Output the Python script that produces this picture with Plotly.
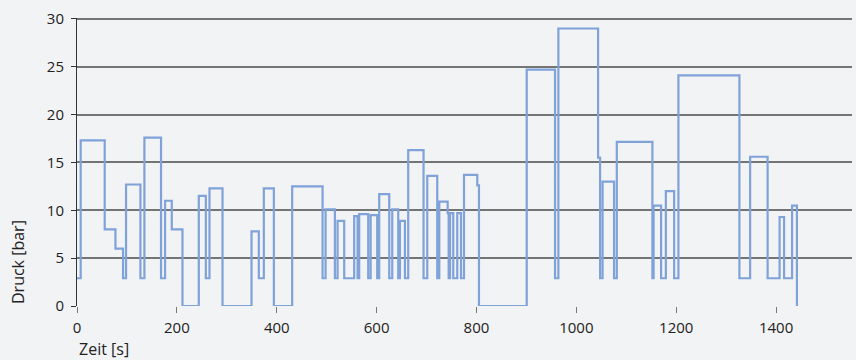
import plotly.graph_objects as go

# Step breakpoints (s) and pressure held from each breakpoint (bar)
zeit = [0, 7.4, 55.5, 77, 92.2, 98.2, 127, 135, 168.3, 176.4,
        189.8, 211.2, 243.9, 258, 265.3, 291.4, 349.5, 364.1, 374.1, 394.2,
        430.9, 491.8, 497.8, 516.4, 521.8, 535.1, 555.1, 561.9, 565.1, 583.2,
        588, 601.2, 605.2, 625.3, 631.3, 643.3, 646.7, 656.7, 663.3, 694,
        701.4, 721.4, 725.5, 742.3, 744.3, 747, 753.5, 761.5, 769, 775,
        801.6, 805, 900.6, 957.3, 964, 1043.5, 1047.5, 1052.5, 1075.5, 1081,
        1152.3, 1154.7, 1169.7, 1179.2, 1195.8, 1204.4, 1326.5, 1348, 1383, 1407,
        1416, 1432, 1441.7]
druck = [2.9, 17.3, 8.0, 6.0, 2.9, 12.7, 2.9, 17.6, 2.9, 11.0,
         8.0, 0, 11.5, 2.9, 12.3, 0, 7.8, 2.9, 12.3, 0,
         12.5, 2.9, 10.1, 2.9, 8.9, 2.9, 9.4, 2.9, 9.6, 2.9,
         9.5, 2.9, 11.7, 2.9, 10.1, 2.9, 8.9, 2.9, 16.3, 2.9,
         13.6, 2.9, 10.9, 9.7, 2.9, 9.7, 2.9, 9.7, 2.9, 13.7,
         12.6, 0, 24.7, 2.9, 29.0, 15.5, 2.9, 13.0, 2.9, 17.15,
         2.9, 10.5, 2.9, 12.0, 2.9, 24.1, 2.9, 15.6, 2.9, 9.3,
         2.9, 10.5, 0]

x_ticks = [0, 200, 400, 600, 800, 1000, 1200, 1400]
y_ticks = [0, 5, 10, 15, 20, 25, 30]

BG = "#f2f3f5"
FONT = "Open Sans"
GRID = "#747474"

fig = go.Figure()
fig.add_trace(go.Scatter(
    x=zeit, y=druck, mode="lines", line_shape="hv",
    line=dict(color="#7fa2d9", width=2.2), showlegend=False, hoverinfo="skip"))

fig.update_layout(
    width=856, height=360,
    margin=dict(l=77, r=4, t=18, b=54),
    paper_bgcolor=BG, plot_bgcolor=BG,
    font=dict(family=FONT, size=15, color="#222222"),
    xaxis=dict(range=[0, 1552], tickvals=x_ticks, showgrid=False,
               zeroline=False, showline=False, ticks="outside", ticklen=6,
               tickcolor="#777777", tickwidth=1, ticklabelstandoff=2),
    yaxis=dict(range=[0, 30.1], tickvals=y_ticks, showgrid=True,
               gridcolor=GRID, gridwidth=2, zeroline=False,
               showline=True, linecolor="#333333", linewidth=1,
               ticks="outside", ticklen=5, tickcolor="#333333",
               ticklabelstandoff=4),
    shapes=[dict(type="line", xref="paper", x0=0, x1=1, yref="y",
                 y0=y_ticks[-1], y1=y_ticks[-1], layer="below",
                 line=dict(color=GRID, width=2))],
    annotations=[
        dict(text="Zeit [s]", xref="paper", yref="paper", x=0, y=0,
             xanchor="left", yanchor="top", yshift=-30, showarrow=False,
             font=dict(size=16)),
        dict(text="Druck [bar]", xref="paper", yref="paper", x=0, y=0,
             xanchor="center", yanchor="bottom", xshift=-59, showarrow=False,
             textangle=-90, font=dict(size=16)),
    ],
)

fig.write_html(
    "out.html",
    config={"displayModeBar": False, "staticPlot": True},
    post_script="document.body.style.margin='0';document.body.style.background='" + BG + "';",
)
